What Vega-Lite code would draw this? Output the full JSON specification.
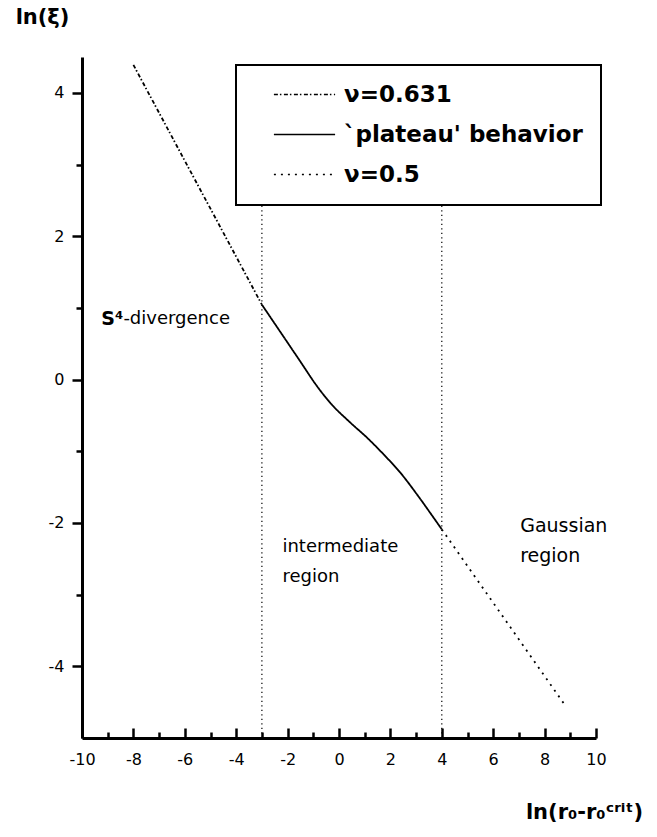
{
  "$schema": "https://vega.github.io/schema/vega-lite/v6.json",
  "width": 514,
  "height": 681,
  "autosize": {"type": "none"},
  "padding": {"left": 82, "top": 57, "right": 61, "bottom": 99},
  "background": "white",
  "config": {"view": {"stroke": null}, "font": "DejaVu Sans"},
  "resolve": {"axis": {"x": "independent"}},
  "datasets": {
    "curves": [
      {"series": "ν=0.631", "x": -8.0, "y": 4.39},
      {"series": "ν=0.631", "x": -3.0, "y": 1.045},
      {"series": "`plateau' behavior", "x": -3.0, "y": 1.045},
      {"series": "`plateau' behavior", "x": -2.16, "y": 0.6},
      {"series": "`plateau' behavior", "x": -1.51, "y": 0.255},
      {"series": "`plateau' behavior", "x": -0.86, "y": -0.09},
      {"series": "`plateau' behavior", "x": -0.34, "y": -0.325},
      {"series": "`plateau' behavior", "x": 0.44, "y": -0.6},
      {"series": "`plateau' behavior", "x": 1.09, "y": -0.81},
      {"series": "`plateau' behavior", "x": 1.74, "y": -1.045},
      {"series": "`plateau' behavior", "x": 2.39, "y": -1.3},
      {"series": "`plateau' behavior", "x": 3.03, "y": -1.6},
      {"series": "`plateau' behavior", "x": 3.55, "y": -1.86},
      {"series": "`plateau' behavior", "x": 4.0, "y": -2.09},
      {"series": "ν=0.5", "x": 4.0, "y": -2.09},
      {"series": "ν=0.5", "x": 8.77, "y": -4.53}
    ],
    "vlines": [{"x": -3}, {"x": 4}]
  },
  "layer": [
    {
      "data": {"name": "vlines"},
      "mark": {"type": "rule", "color": "black", "strokeWidth": 1.2, "strokeDash": [1.2, 3.3]},
      "encoding": {
        "x": {
          "field": "x", "type": "quantitative",
          "scale": {"domain": [-10, 10], "nice": false, "zero": false},
          "axis": {
            "orient": "top",
            "offset": -681,
            "values": [-10, -9, -8, -7, -6, -5, -4, -3, -2, -1, 0, 1, 2, 3, 4, 5, 6, 7, 8, 9, 10],
            "labels": false,
            "domain": false,
            "grid": false,
            "tickColor": "black", "tickWidth": 2.5,
            "tickSize": {"condition": {"test": "datum.value % 2 !== 0", "value": 6}, "value": 10},
            "title": null
          }
        },
        "y": {"datum": -5, "type": "quantitative"},
        "y2": {"datum": 2.45}
      }
    },
    {
      "data": {"name": "curves"},
      "mark": {"type": "line", "color": "black", "strokeWidth": 1.8, "interpolate": "monotone"},
      "encoding": {
        "x": {
          "field": "x", "type": "quantitative",
          "scale": {"domain": [-10, 10], "nice": false, "zero": false},
          "axis": {
            "orient": "bottom",
            "values": [-10, -8, -6, -4, -2, 0, 2, 4, 6, 8, 10],
            "labelExpr": "'' + datum.value",
            "grid": false,
            "ticks": false,
            "domainColor": "black", "domainWidth": 3,
            "labelPadding": 13,
            "labelFlush": false, "labelOverlap": false,
            "labelFont": "DejaVu Sans", "labelFontSize": 16, "labelColor": "black",
            "title": "ln(r₀-r₀ᶜʳⁱᵗ)",
            "titleFont": "DejaVu Sans", "titleFontWeight": "bold", "titleFontSize": 21, "titleColor": "black",
            "titleX": 502, "titleY": 80, "titleAlign": "center", "titleBaseline": "alphabetic"
          }
        },
        "y": {
          "field": "y", "type": "quantitative",
          "scale": {"domain": [-5, 4.5], "nice": false, "zero": false},
          "axis": {
            "values": [-4, -3, -2, -1, 0, 1, 2, 3, 4],
            "labelExpr": "datum.value % 2 === 0 ? '' + datum.value : ''",
            "grid": false,
            "domainColor": "black", "domainWidth": 3,
            "tickColor": "black", "tickWidth": 2.5,
            "tickSize": {"condition": {"test": "datum.value % 2 !== 0", "value": 6}, "value": 10},
            "labelPadding": 8,
            "labelFlush": false, "labelOverlap": false,
            "labelFont": "DejaVu Sans", "labelFontSize": 16, "labelColor": "black",
            "title": "ln(ξ)",
            "titleFont": "DejaVu Sans", "titleFontWeight": "bold", "titleFontSize": 21, "titleColor": "black",
            "titleAngle": 0, "titleX": -40, "titleY": -40, "titleAlign": "center", "titleBaseline": "middle"
          }
        },
        "detail": {"field": "series", "type": "nominal"},
        "strokeDash": {
          "field": "series", "type": "nominal",
          "scale": {
            "domain": ["ν=0.631", "`plateau' behavior", "ν=0.5"],
            "range": [[4, 2, 1.5, 2.5], [1, 0], [2, 5]]
          },
          "legend": {
            "orient": "none", "legendX": 154, "legendY": 8,
            "title": null,
            "symbolType": "M-3.6,0L3.6,0",
            "symbolSize": 289,
            "symbolStrokeWidth": 1.5,
            "symbolStrokeColor": "black",
            "symbolOffset": 39,
            "labelOffset": 28,
            "labelFont": "DejaVu Sans", "labelFontWeight": "bold", "labelFontSize": 23, "labelColor": "black",
            "labelLimit": 400,
            "rowPadding": 16,
            "padding": 18,
            "strokeColor": "black",
            "fillColor": "white",
            "encode": {"legend": {"update": {"strokeWidth": {"value": 2}}}}
          }
        }
      }
    },
    {
      "data": {"values": [{}]},
      "mark": {"type": "text", "text": "S⁴", "align": "right", "baseline": "middle", "fontWeight": "bold", "fontSize": 19, "font": "DejaVu Sans", "color": "black"},
      "encoding": {"x": {"datum": -8.39, "type": "quantitative", "axis": null}, "y": {"datum": 0.84, "type": "quantitative"}}
    },
    {
      "data": {"values": [{}]},
      "mark": {"type": "text", "text": "-divergence", "align": "left", "baseline": "middle", "fontSize": 18, "font": "DejaVu Sans", "color": "black"},
      "encoding": {"x": {"datum": -8.39, "type": "quantitative", "axis": null}, "y": {"datum": 0.84, "type": "quantitative"}}
    },
    {
      "data": {"values": [{}]},
      "mark": {"type": "text", "text": ["intermediate", "region"], "lineHeight": 30, "align": "left", "baseline": "middle", "fontSize": 18, "font": "DejaVu Sans", "color": "black"},
      "encoding": {"x": {"datum": -2.2, "type": "quantitative", "axis": null}, "y": {"datum": -2.335, "type": "quantitative"}}
    },
    {
      "data": {"values": [{}]},
      "mark": {"type": "text", "text": ["Gaussian", "region"], "lineHeight": 30, "align": "left", "baseline": "middle", "fontSize": 19, "font": "DejaVu Sans", "color": "black"},
      "encoding": {"x": {"datum": 7.05, "type": "quantitative", "axis": null}, "y": {"datum": -2.04, "type": "quantitative"}}
    }
  ]
}
